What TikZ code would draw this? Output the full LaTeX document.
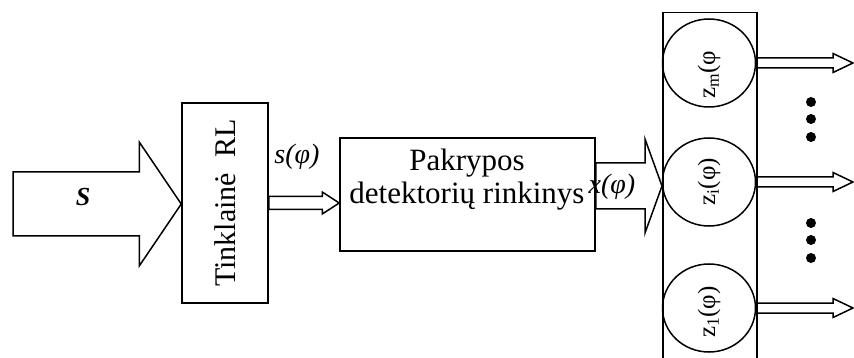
\documentclass[tikz,border=0pt]{standalone}
\usepackage{fontspec}
\setmainfont{Liberation Serif}
\usetikzlibrary{shapes.geometric,calc}
\tikzset{
  block/.style={draw,line width=1.5pt,inner sep=0pt},
  zcircle/.style={draw,ellipse,line width=1.5pt,minimum width=93pt,minimum height=88pt,inner sep=0pt},
  zlabel/.style={rotate=90,font=\fontsize{25}{28}\selectfont,inner sep=0pt},
  hollow/.style={draw,line width=1.5pt},
  sig/.style={font=\fontsize{28}{30}\selectfont\itshape,inner sep=0pt}
}
% #1 start, #2 tip, #3 body half width, #4 head half width, #5 head length
\newcommand{\hollowarrow}[5]{%
  \draw[hollow] let \p1=(#1), \p2=(#2) in
    (\x1,\y1+#3) -- (\x2-#5,\y1+#3) -- (\x2-#5,\y1+#4) -- (\x2,\y1)
    -- (\x2-#5,\y1-#4) -- (\x2-#5,\y1-#3) -- (\x1,\y1-#3) -- cycle;}

\begin{document}
\begin{tikzpicture}[x=1pt,y=-1pt]
\useasboundingbox (0,0) rectangle (854,358);
\clip (0,0) rectangle (854,358);
% blocks
\node[block,minimum width=86pt,minimum height=200pt,font=\fontsize{30}{32}\selectfont] (tink) at (225,203) {\rotatebox{90}{Tinklainė\ \ RL}};
\node[block,minimum width=255pt,minimum height=113pt] (det) at (467.5,194.5) {};
\node[align=center,font=\fontsize{31}{33}\selectfont,inner sep=0pt] (dettext) at (467,180) {Pakrypos\\detektorių rinkinys};
\node[block,minimum width=94pt,minimum height=420pt,anchor=north west] (col) at (662,12) {};
\node[zcircle] (zm) at (709,63) {};
\node[zcircle] (zi) at (709,182) {};
\node[zcircle] (z1) at (709,308) {};
\node[zlabel] (zmtext) at ([yshift=-12pt]zm.center) {z\textsubscript{m}(φ};
\node[zlabel] (zitext) at (zi) {z\textsubscript{i}(φ)};
\node[zlabel] (z1text) at ([yshift=-4pt]z1.center) {z\textsubscript{1}(φ)};
% labels
\node[font=\fontsize{26}{28}\selectfont\bfseries\itshape] (slabel) at (83,197) {S};
\node[sig] (sphi) at (297,157) {s(φ)};
\node[sig] (xphi) at (612,187) {x(φ)};
% arrows
\coordinate (sIn) at (13,204);
\coordinate (xOut) at ([yshift=8.5pt]det.east);
\coordinate (outx) at (853,0);
\hollowarrow{sIn}{tink.west}{32pt}{62pt}{42pt}
\hollowarrow{tink.east}{det.west}{6.5pt}{11pt}{17pt}
\hollowarrow{xOut}{col.west}{23pt}{47pt}{17pt}
\foreach \z in {zm,zi,z1} {\hollowarrow{\z.east}{outx}{5pt}{9.5pt}{20pt}}
% dots
\foreach \y in {102,119,137,223,240,258} \fill (811,\y) circle (5pt);
\end{tikzpicture}
\end{document}
